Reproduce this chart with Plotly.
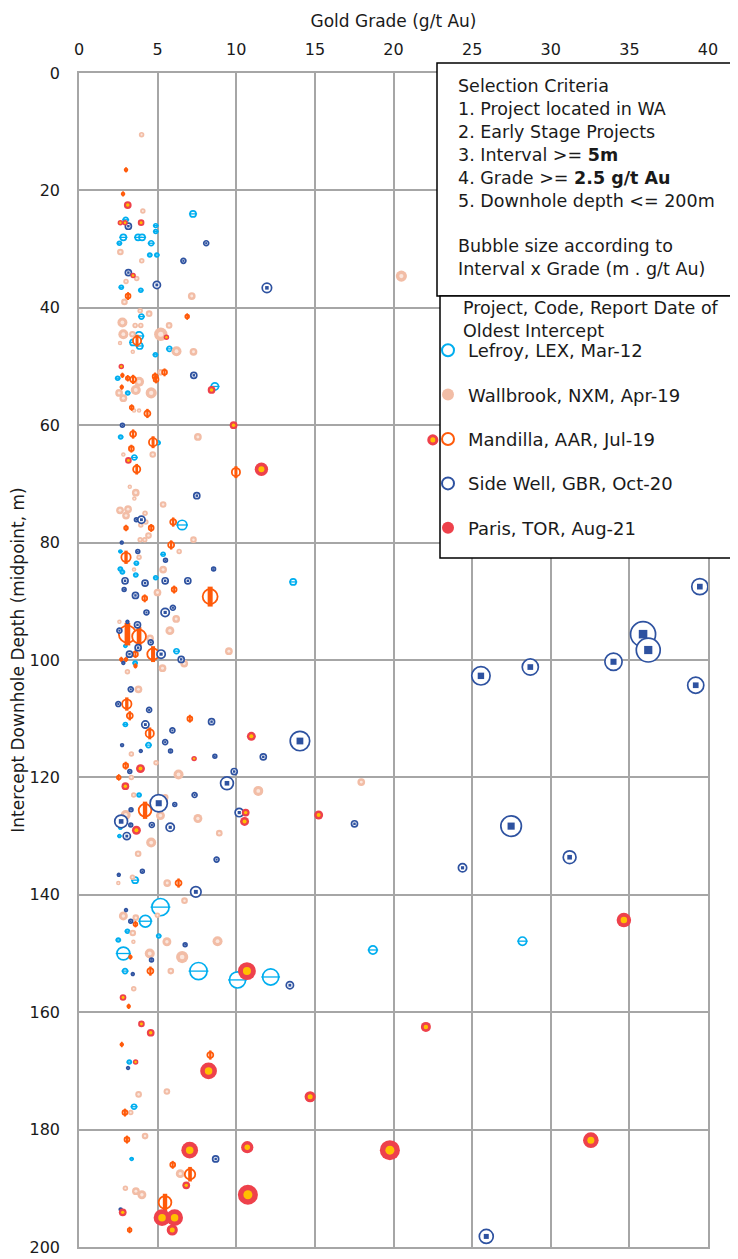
import numpy as np
import plotly.graph_objects as go

# ---------------- data ----------------
# Lefroy, LEX
LEX_grade = [7.25,2.97,4.88,4.88,2.82,3.76,4.01,2.57,4.59,4.5,4.95,2.69,3.93,3.97,3.82,3.44,3.86,5.75,4.86,2.46,
             8.64,3.1,2.65,5.03,3.52,6.56,2.63,5.35,3.65,2.63,2.76,3.61,4.88,13.62,2.95,6.2,3.57,2.95,4.42,3.82,
             2.63,2.57,3.57,5.18,4.22,3.08,5.07,2.5,18.69,28.2,2.82,2.93,7.6,10.08,12.19,3.2,3.5,3.35]
LEX_depth = [24.0,25.0,26.0,27.0,28.0,28.0,28.0,29.0,29.0,31.0,31.0,36.5,37.0,41.5,44.8,45.9,46.5,47.0,48.0,52.0,
             53.4,54.5,62.0,63.0,65.5,77.0,81.5,82.0,83.5,84.5,85.0,85.5,86.0,86.7,97.6,98.5,100.5,111.0,114.5,123.0,
             128.6,130.0,137.5,142.1,144.5,146.2,147.0,147.7,149.4,147.9,150.0,153.0,153.0,154.5,154.0,168.5,176.1,185.0]
LEX_gm = [30,22,15,15,30,30,30,15,22,15,15,15,15,22,50,30,30,22,15,15,
          40,15,15,15,22,62,10,15,15,15,15,15,15,30,10,22,15,15,22,15,
          10,10,30,179,89,15,15,15,50,50,105,22,179,159,159,15,22,10]

# Wallbrook, NXM
NXM_grade = [3.98,4.06,2.63,3.99,2.99,3.67,20.5,7.17,2.89,3.89,
             4.46,2.76,3.57,3.93,5.73,2.82,3.4,5.2,2.61,6.2,
             7.28,3.42,5.2,3.82,3.61,2.55,2.82,4.59,3.5,3.82,
             7.56,2.82,4.69,3.23,3.61,3.52,5.35,2.61,3.12,2.99,
             4.2,4.25,3.93,4.42,3.89,4.18,7.28,6.37,3.82,3.5,
             5.35,4.99,6.18,2.57,5.78,4.52,9.53,6.69,5.31,3.08,
             3.78,3.33,4.9,6.33,3.33,17.95,11.4,3.48,5.48,2.97,
             5.18,7.56,8.92,4.59,3.76,3.4,2.5,5.61,6.71,2.82,
             3.61,4.99,3.42,3.46,5.59,8.81,4.5,6.56,5.84,3.48,
             3.79,5.59,3.29,4.2,6.44,2.95,3.62,4.0]
NXM_depth = [10.5,23.5,30.5,32.0,35.5,35.0,34.6,38.0,39.0,40.5,
             41.0,42.5,43.0,43.0,43.0,44.5,44.5,44.5,46.0,47.4,
             47.5,47.5,51.0,52.6,54.0,54.5,55.4,54.5,57.5,57.5,
             62.0,65.0,65.0,70.5,71.5,72.5,73.5,74.5,74.3,75.4,
             75.0,76.5,77.0,78.8,79.5,79.5,79.5,81.5,82.5,84.6,
             84.6,88.5,93.0,93.5,95.0,96.3,98.5,100.6,101.4,102.0,
             105.0,116.0,117.5,119.5,120.0,120.8,122.3,123.0,123.4,126.4,
             126.5,127.0,129.5,131.1,133.0,137.0,138.0,138.0,141.0,143.6,
             143.9,143.5,146.5,148.0,148.0,147.9,150.0,150.6,153.0,156.0,
             174.0,173.5,177.1,181.1,187.5,190.0,190.5,191.1]
NXM_gm = [15,15,22,15,15,15,62,30,22,15,
          22,50,15,15,22,50,22,89,10,50,
          30,10,22,50,50,30,30,62,10,10,
          30,10,22,10,30,10,22,30,30,30,
          15,15,15,22,15,15,22,15,15,10,
          30,30,30,10,40,30,30,30,30,15,
          30,15,15,50,15,30,50,15,22,50,
          40,40,22,50,22,15,10,30,22,40,
          22,15,22,10,40,50,50,75,22,15,
          22,22,15,22,40,15,30,40]

# Mandilla, AAR
AAR_grade = [2.99,2.8,3.12,6.88,3.69,5.44,2.76,3.1,3.44,4.84,
             4.9,2.72,3.35,4.35,3.44,4.71,3.33,3.67,9.98,5.99,
             2.99,4.59,5.86,2.99,6.05,8.34,4.18,3.08,3.82,4.71,
             3.59,2.69,2.99,3.59,3.04,3.23,7.05,4.5,2.97,2.53,
             4.2,6.33,3.59,3.27,4.54,3.16,2.72,8.35,2.92,3.05,
             5.96,7.06,5.47,3.22]
AAR_depth = [16.5,20.6,38.0,41.5,45.6,51.0,51.5,52.0,52.2,51.7,
             52.2,53.5,57.0,58.0,61.5,62.9,64.0,67.5,68.0,76.5,
             77.5,77.5,80.4,82.5,88.0,89.2,89.5,95.6,96.0,99.0,
             99.0,99.9,99.9,101.0,107.5,109.5,110.0,112.5,118.0,120.0,
             125.6,138.0,145.0,150.6,153.0,159.0,165.5,167.3,177.1,181.7,
             186.0,187.6,192.4,197.1]
AAR_gm = [10,10,22,15,50,22,10,15,30,22,
          22,10,15,30,30,50,22,40,50,30,
          15,22,30,62,22,140,22,179,122,89,
          22,10,10,10,62,30,22,50,22,15,
          105,30,15,10,30,10,10,30,22,22,
          22,75,105,15]

# Side Well, GBR
GBR_grade = [3.14,8.09,6.64,3.14,4.95,11.95,7.3,2.76,7.49,3.65,
             3.97,2.72,3.74,5.5,8.56,2.93,4.2,5.48,6.92,39.48,
             2.87,3.59,4.29,5.48,5.97,3.08,3.72,2.57,35.87,4.56,
             3.76,36.2,5.22,3.21,6.5,2.82,33.99,28.7,25.56,39.22,
             3.29,2.5,4.46,4.22,8.43,5.94,14.05,2.74,5.48,3.93,
             5.82,8.64,11.72,3.23,9.87,9.41,7.35,5.07,6.09,3.31,
             10.19,2.68,3.29,4.63,5.8,17.52,27.48,3.04,31.2,8.75,
             24.39,2.53,4.03,7.43,2.99,3.29,6.75,4.61,3.42,13.41,
             3.12,8.69,2.65,25.9]
GBR_depth = [26.1,29.0,32.0,34.0,36.1,36.6,51.5,60.0,72.0,76.1,
             76.1,80.0,81.5,83.0,84.5,86.5,86.9,86.5,86.5,87.5,
             88.0,89.0,91.9,91.9,91.1,93.5,94.0,95.0,95.6,97.0,
             97.9,98.3,99.0,99.0,99.9,100.5,100.3,101.2,102.7,104.3,
             105.0,107.5,108.5,111.0,110.5,112.0,113.8,114.5,114.0,115.5,
             115.5,116.4,116.5,119.0,119.0,121.0,123.0,124.4,124.6,125.5,
             126.0,127.5,128.1,128.1,128.5,127.9,128.3,130.0,133.6,134.0,
             135.4,136.6,136.0,139.5,142.6,144.5,148.5,151.1,153.5,155.4,
             169.5,185.0,193.6,198.2]
GBR_gm = [30,22,22,30,40,62,30,15,30,15,
          40,10,15,15,15,30,30,30,30,159,
          15,30,22,50,22,10,30,22,357,22,
          30,328,50,30,30,10,179,159,201,159,
          22,22,22,40,30,22,224,10,22,10,
          15,15,30,15,30,105,22,179,15,15,
          50,105,15,22,50,30,248,40,105,22,
          50,10,15,75,10,15,15,15,10,40,
          10,30,10,122]

# Paris, TOR
TOR_grade = [3.1,2.63,2.93,3.95,3.44,5.56,2.69,8.43,9.83,22.5,
             3.14,11.6,10.96,7.32,3.91,2.95,15.24,10.6,10.53,3.65,
             34.65,10.68,2.8,22.06,3.97,4.56,3.6,8.24,14.7,19.77,
             32.55,10.7,7.04,6.82,10.74,2.78,5.28,6.08,5.93]
TOR_depth = [22.5,25.5,25.5,25.5,34.5,45.0,50.0,54.0,60.0,62.5,
             66.0,67.5,113.0,116.8,118.5,121.5,126.4,126.0,127.5,129.0,
             144.3,153.0,157.5,162.5,162.0,163.5,168.5,170.0,174.4,183.5,
             181.8,183.0,183.5,189.5,191.1,194.1,195.0,195.0,197.1]
TOR_gm = [30,15,15,22,15,15,15,30,30,62,
          22,89,40,15,40,30,40,30,40,40,
          105,159,22,50,22,30,15,140,62,201,
          122,75,140,30,201,30,140,140,62]

X_TICKS = [0, 5, 10, 15, 20, 25, 30, 35, 40]
Y_TICKS = [0, 20, 40, 60, 80, 100, 120, 140, 160, 180, 200]

CRITERIA_LINES = ["Selection Criteria", "1. Project located in WA", "2. Early Stage Projects",
                  "3. Interval >= <b>5m</b>", "4. Grade >= <b>2.5 g/t Au</b>", "5. Downhole depth <= 200m",
                  "", "Bubble size according to", "Interval x Grade (m . g/t Au)"]
LEGEND_TITLE_LINES = ["Project, Code, Report Date of", "Oldest Intercept"]

# ---------------- styling ----------------
FONT = "DejaVu Sans"
TXT = "#1A1A1A"
GRID = "#A6A6A6"
SIZEREF = 0.5

C_LEX = "#00AEEF"
C_NXM = "#F2BDA6"
C_AAR = "#FF5A0A"
C_GBR = "#2E52A0"
C_TOR = "#EE414B"
C_YEL = "#FFC000"


def diam(gm):
    return np.sqrt(np.asarray(gm, dtype=float) / SIZEREF)


fig = go.Figure()

# Lefroy
d = diam(LEX_gm)
fig.add_trace(go.Scatter(x=LEX_grade, y=LEX_depth, mode="markers", name="Lefroy, LEX, Mar-12",
                         legendgroup="lex", hoverinfo="skip",
                         marker=dict(symbol="circle", size=d - 1.7, color="white", opacity=1,
                                     line=dict(color=C_LEX, width=1.7))))
fig.add_trace(go.Scatter(x=LEX_grade, y=LEX_depth, mode="markers", showlegend=False,
                         legendgroup="lex", hoverinfo="skip",
                         marker=dict(symbol="line-ew", size=d * 0.75, opacity=1,
                                     line=dict(color=C_LEX, width=1.3))))
# Wallbrook
d = diam(NXM_gm)
fig.add_trace(go.Scatter(x=NXM_grade, y=NXM_depth, mode="markers", name="Wallbrook, NXM, Apr-19",
                         legendgroup="nxm", hoverinfo="skip",
                         marker=dict(symbol="circle", size=d, color=C_NXM, opacity=1, line=dict(width=0))))
fig.add_trace(go.Scatter(x=NXM_grade, y=NXM_depth, mode="markers", showlegend=False,
                         legendgroup="nxm", hoverinfo="skip",
                         marker=dict(symbol="circle", size=d * 0.38, color="#FBE6DD", opacity=1,
                                     line=dict(width=0))))
# Mandilla
d = diam(AAR_gm)
fig.add_trace(go.Scatter(x=AAR_grade, y=AAR_depth, mode="markers", name="Mandilla, AAR, Jul-19",
                         legendgroup="aar", hoverinfo="skip",
                         marker=dict(symbol="circle", size=d - 1.8, color="white", opacity=1,
                                     line=dict(color=C_AAR, width=1.8))))
fig.add_trace(go.Scatter(x=AAR_grade, y=AAR_depth, mode="markers", showlegend=False,
                         legendgroup="aar", hoverinfo="skip",
                         marker=dict(symbol="line-ns", size=d * 0.85, opacity=1,
                                     line=dict(color=C_AAR, width=np.maximum(1.5, d * 0.3)))))
# Side Well
d = diam(GBR_gm)
fig.add_trace(go.Scatter(x=GBR_grade, y=GBR_depth, mode="markers", name="Side Well, GBR, Oct-20",
                         legendgroup="gbr", hoverinfo="skip",
                         marker=dict(symbol="circle", size=d - 1.7, color="white", opacity=1,
                                     line=dict(color=C_GBR, width=1.7))))
fig.add_trace(go.Scatter(x=GBR_grade, y=GBR_depth, mode="markers", showlegend=False,
                         legendgroup="gbr", hoverinfo="skip",
                         marker=dict(symbol="square", size=d * 0.32, color=C_GBR, opacity=1,
                                     line=dict(width=0))))
# Paris
d = diam(TOR_gm)
fig.add_trace(go.Scatter(x=TOR_grade, y=TOR_depth, mode="markers", name="Paris, TOR, Aug-21",
                         legendgroup="tor", hoverinfo="skip",
                         marker=dict(symbol="circle", size=d, color=C_TOR, opacity=1, line=dict(width=0))))
fig.add_trace(go.Scatter(x=TOR_grade, y=TOR_depth, mode="markers", showlegend=False,
                         legendgroup="tor", hoverinfo="skip",
                         marker=dict(symbol="circle", size=d * 0.45, color=C_YEL, opacity=1,
                                     line=dict(width=0))))

# page body has an 8px margin, so the figure starts at (8, 8) on screen
OFF = 8
W, H = 738 - OFF, 1259 - OFF
L, R, T, B = 79 - OFF, 30, 73 - OFF, 12
pw, ph = W - L - R, H - T - B


def px_x(px):
    return (px - OFF - L) / pw


def px_y(py):
    return 1 - (py - OFF - T) / ph


annotations = []
for i, line in enumerate(CRITERIA_LINES):
    if not line:
        continue
    annotations.append(dict(text=line, xref="paper", yref="paper", x=px_x(456), y=px_y(86 + i * 22.9),
                            xanchor="left", yanchor="middle", align="left", showarrow=False,
                            font=dict(size=17.5, color=TXT, family=FONT)))
for i, line in enumerate(LEGEND_TITLE_LINES):
    annotations.append(dict(text=line, xref="paper", yref="paper", x=px_x(461), y=px_y(308 + i * 23),
                            xanchor="left", yanchor="middle", align="left", showarrow=False,
                            font=dict(size=17.5, color=TXT, family=FONT)))

fig.update_layout(
    width=W, height=H, autosize=False,
    margin=dict(l=L, r=R, t=T, b=B),
    paper_bgcolor="white", plot_bgcolor="white",
    font=dict(family=FONT, size=16, color=TXT),
    xaxis=dict(side="top", range=[0, 40], tickvals=X_TICKS, showgrid=True, gridcolor=GRID, gridwidth=1.5,
               showline=True, linecolor=GRID, linewidth=1.5, mirror=True, zeroline=False, ticks="",
               automargin=False, tickfont=dict(size=16, color=TXT), ticklabelstandoff=10,
               title=dict(text="Gold Grade (g/t Au)", font=dict(size=17, color=TXT), standoff=8)),
    yaxis=dict(range=[200, 0], tickvals=Y_TICKS, showgrid=True, gridcolor=GRID, gridwidth=1.5,
               showline=True, linecolor=GRID, linewidth=1.5, mirror=True, zeroline=False, ticks="",
               automargin=False, tickfont=dict(size=16, color=TXT), ticklabelstandoff=14,
               title=dict(text="Intercept Downhole Depth (midpoint, m)", font=dict(size=17, color=TXT),
                          standoff=7)),
    legend=dict(x=px_x(428), y=px_y(332), xanchor="left", yanchor="top",
                bgcolor="rgba(0,0,0,0)", borderwidth=0,
                font=dict(size=18, color=TXT), itemsizing="constant", tracegroupgap=18,
                traceorder="grouped", itemwidth=30),
    shapes=[dict(type="rect", xref="paper", yref="paper", x0=px_x(437), x1=px_x(742), y0=px_y(296), y1=px_y(63),
                 line=dict(color="black", width=1.5), fillcolor="white", layer="above"),
            dict(type="rect", xref="paper", yref="paper", x0=px_x(440), x1=px_x(742), y0=px_y(558), y1=px_y(296),
                 line=dict(color="black", width=1.5), fillcolor="white", layer="above")],
    annotations=annotations,
)

fig.write_html("out.html")
